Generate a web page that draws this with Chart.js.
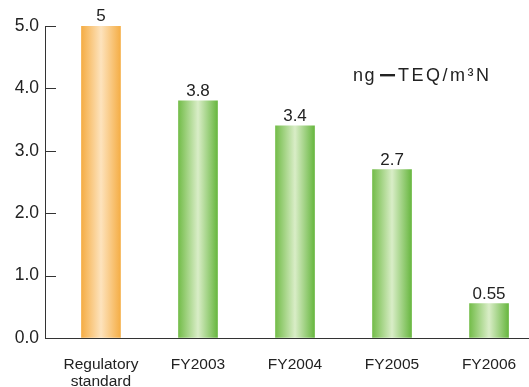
<!DOCTYPE html>
<html>
<head>
<meta charset="utf-8">
<script src="https://cdn.jsdelivr.net/npm/chart.js@4.4.1/dist/chart.umd.min.js"></script>
<style>
  html, body { margin: 0; padding: 0; background: #fff; }
  #wrap { width: 529px; height: 387px; position: relative; }
</style>
</head>
<body>
<div id="wrap"><canvas id="c" width="529" height="387"></canvas></div>
<script>
// Dioxin concentration in exhaust gas (ng-TEQ/m3N)
const categories = [['Regulatory', 'standard'], 'FY2003', 'FY2004', 'FY2005', 'FY2006'];
const values = [5, 3.8, 3.4, 2.7, 0.55];
const valueLabels = ['5', '3.8', '3.4', '2.7', '0.55'];
const yTicks = [0, 1, 2, 3, 4, 5];
const unitParts = ['ng', 'TEQ/m³N'];

// Gradient stops: darker edges, light centre
const ORANGE = ['#f5ad45', '#fde3bd', '#f5ae46'];
const GREEN = ['#74bd4a', '#d9edc7', '#68b740'];
const BAR_W = 39;
const TEXT = '#222';
const AXIS = '#333';
const FONT = "'Liberation Sans', Arial, sans-serif";

function barFill(ctx) {
  const chart = ctx.chart;
  const xs = chart.scales && chart.scales.x;
  if (!xs || !chart.chartArea) return GREEN[0];
  const cx = xs.getPixelForValue(ctx.dataIndex);
  const stops = ctx.dataIndex === 0 ? ORANGE : GREEN;
  const g = chart.ctx.createLinearGradient(cx - BAR_W / 2, 0, cx + BAR_W / 2, 0);
  g.addColorStop(0, stops[0]);
  g.addColorStop(0.5, stops[1]);
  g.addColorStop(1, stops[2]);
  return g;
}

// Inward tick marks on the value axis
const innerTicks = {
  id: 'innerTicks',
  afterDraw(chart) {
    const y = chart.scales.y, left = chart.chartArea.left, c = chart.ctx;
    c.save();
    c.strokeStyle = AXIS;
    c.lineWidth = 1;
    yTicks.forEach(v => {
      const py = Math.round(y.getPixelForValue(v)) + 0.5;
      c.beginPath();
      c.moveTo(left, py);
      c.lineTo(left + 11, py);
      c.stroke();
    });
    c.restore();
  }
};

// Value labels above bars and the unit caption
const barText = {
  id: 'barText',
  afterDatasetsDraw(chart) {
    const c = chart.ctx;
    const meta = chart.getDatasetMeta(0);
    c.save();
    c.fillStyle = TEXT;
    c.font = '17px ' + FONT;
    c.textAlign = 'center';
    c.textBaseline = 'alphabetic';
    meta.data.forEach((bar, i) => {
      c.fillText(valueLabels[i], bar.x, bar.y - 5);
    });
    // unit caption: text pieces with a bold bar as the full-width dash
    c.font = '18px ' + FONT;
    c.textAlign = 'left';
    let x = 353;
    const base = 81;
    c.letterSpacing = '1.5px';
    c.fillText(unitParts[0], x, base);
    x += c.measureText(unitParts[0]).width + 4;
    c.fillRect(x, base - 7, 15, 2.4);
    x += 15 + 3;
    c.letterSpacing = '2.5px';
    c.fillText(unitParts[1], x, base);
    c.restore();
  }
};

new Chart(document.getElementById('c'), {
  type: 'bar',
  data: {
    datasets: [{
      data: values.map((v, i) => ({ x: i, y: v })),
      backgroundColor: barFill,
      borderWidth: 0,
      barThickness: BAR_W
    }]
  },
  options: {
    responsive: false,
    animation: false,
    devicePixelRatio: 1,
    layout: { padding: { top: 26, right: 0, left: 0, bottom: 0 } },
    plugins: { legend: { display: false }, tooltip: { enabled: false } },
    scales: {
      x: {
        type: 'linear',
        offset: false,
        min: -0.577,
        max: 4.412,
        grid: { display: false },
        border: { display: true, color: AXIS, width: 1 },
        afterBuildTicks(scale) {
          scale.ticks = categories.map((_, i) => ({ value: i }));
        },
        afterFit(scale) { scale.height = 49; },
        ticks: {
          autoSkip: false,
          maxRotation: 0,
          minRotation: 0,
          padding: 10,
          color: TEXT,
          font: { family: FONT, size: 15.5, lineHeight: 1.1 },
          callback: (v) => categories[v]
        }
      },
      y: {
        min: 0,
        max: 5,
        grid: { display: true, drawOnChartArea: false, drawTicks: false },
        border: { display: true, color: AXIS, width: 1 },
        afterBuildTicks(scale) {
          scale.ticks = yTicks.map(v => ({ value: v }));
        },
        afterFit(scale) { scale.width = 45; },
        ticks: {
          padding: 6,
          color: TEXT,
          font: { family: FONT, size: 17.5 },
          callback: (v) => v.toFixed(1)
        }
      }
    }
  },
  plugins: [innerTicks, barText]
});
</script>
</body>
</html>
